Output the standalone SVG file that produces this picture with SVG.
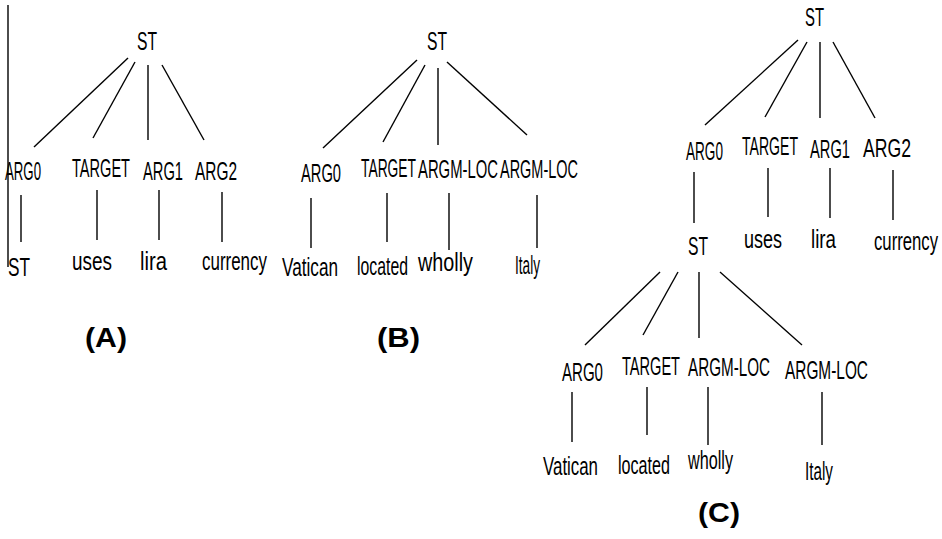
<svg xmlns="http://www.w3.org/2000/svg" width="942" height="539" viewBox="0 0 942 539">
<style>
text{font-family:"Liberation Sans",Arial,sans-serif;font-size:25px;fill:#000}
.cap{font-family:"Liberation Sans",Arial,sans-serif;font-size:27px;font-weight:bold}
line{stroke:#000;stroke-width:1.4}
</style>
<rect width="942" height="539" fill="#fff"/>
<g id="connectors">
<line x1="8" y1="5" x2="8" y2="267"/>
<!-- Tree A -->
<line x1="128" y1="58" x2="34" y2="147"/>
<line x1="135" y1="62" x2="93" y2="138"/>
<line x1="148" y1="65" x2="148" y2="140"/>
<line x1="162" y1="65" x2="204" y2="140"/>
<line x1="21" y1="195" x2="21" y2="242"/>
<line x1="97" y1="190" x2="97" y2="240"/>
<line x1="159" y1="190" x2="159" y2="240"/>
<line x1="222" y1="192" x2="222" y2="242"/>
<!-- Tree B -->
<line x1="417" y1="60" x2="323" y2="148"/>
<line x1="425" y1="65" x2="383" y2="142"/>
<line x1="438" y1="68" x2="438" y2="145"/>
<line x1="447" y1="62" x2="527" y2="135"/>
<line x1="311" y1="198" x2="311" y2="248"/>
<line x1="387" y1="193" x2="387" y2="242"/>
<line x1="449" y1="193" x2="449" y2="250"/>
<line x1="537" y1="195" x2="537" y2="248"/>
<!-- Tree C upper -->
<line x1="798" y1="40" x2="705" y2="125"/>
<line x1="807" y1="42" x2="765" y2="117"/>
<line x1="820" y1="42" x2="820" y2="118"/>
<line x1="833" y1="42" x2="875" y2="118"/>
<line x1="694" y1="172" x2="694" y2="223"/>
<line x1="768" y1="168" x2="768" y2="217"/>
<line x1="830" y1="168" x2="830" y2="218"/>
<line x1="893" y1="170" x2="893" y2="220"/>
<!-- Tree C lower -->
<line x1="660" y1="272" x2="585" y2="345"/>
<line x1="678" y1="272" x2="643" y2="335"/>
<line x1="699" y1="272" x2="699" y2="338"/>
<line x1="720" y1="272" x2="802" y2="345"/>
<line x1="572" y1="392" x2="572" y2="442"/>
<line x1="647" y1="387" x2="647" y2="435"/>
<line x1="708" y1="387" x2="708" y2="445"/>
<line x1="822" y1="392" x2="822" y2="445"/>
</g>
<!-- Tree A nodes -->
<g id="a-st"><text x="137" y="50" textLength="20" lengthAdjust="spacingAndGlyphs">ST</text></g>
<g id="a-arg0"><text x="5" y="180" textLength="36" lengthAdjust="spacingAndGlyphs">ARG0</text></g>
<g id="a-target"><text x="72" y="177" textLength="58" lengthAdjust="spacingAndGlyphs">TARGET</text></g>
<g id="a-arg1"><text x="143" y="180" textLength="40" lengthAdjust="spacingAndGlyphs">ARG1</text></g>
<g id="a-arg2"><text x="195" y="180" textLength="42" lengthAdjust="spacingAndGlyphs">ARG2</text></g>
<g id="a-st2"><text x="8" y="276" textLength="22" lengthAdjust="spacingAndGlyphs">ST</text></g>
<g id="a-uses"><text x="72" y="270" textLength="40" lengthAdjust="spacingAndGlyphs">uses</text></g>
<g id="a-lira"><text x="140" y="270" textLength="27" lengthAdjust="spacingAndGlyphs">lira</text></g>
<g id="a-currency"><text x="202" y="270" textLength="65" lengthAdjust="spacingAndGlyphs">currency</text></g>
<g id="a-label"><text class="cap" x="85" y="347" textLength="42" lengthAdjust="spacingAndGlyphs">(A)</text></g>
<!-- Tree B nodes -->
<g id="b-st"><text x="427" y="50" textLength="20" lengthAdjust="spacingAndGlyphs">ST</text></g>
<g id="b-arg0"><text x="301" y="182" textLength="40" lengthAdjust="spacingAndGlyphs">ARG0</text></g>
<g id="b-target"><text x="361" y="177" textLength="55" lengthAdjust="spacingAndGlyphs">TARGET</text></g>
<g id="b-argmloc1"><text x="418" y="178" textLength="80" lengthAdjust="spacingAndGlyphs">ARGM-LOC</text></g>
<g id="b-argmloc2"><text x="500" y="178" textLength="78" lengthAdjust="spacingAndGlyphs">ARGM-LOC</text></g>
<g id="b-vatican"><text x="282" y="276" textLength="56" lengthAdjust="spacingAndGlyphs">Vatican</text></g>
<g id="b-located"><text x="357" y="275" textLength="51" lengthAdjust="spacingAndGlyphs">located</text></g>
<g id="b-wholly"><text x="418" y="271" textLength="55" lengthAdjust="spacingAndGlyphs">wholly</text></g>
<g id="b-italy"><text x="515" y="274" textLength="25" lengthAdjust="spacingAndGlyphs">Italy</text></g>
<g id="b-label"><text class="cap" x="377" y="347" textLength="43" lengthAdjust="spacingAndGlyphs">(B)</text></g>
<!-- Tree C nodes -->
<g id="c-st"><text x="805" y="26" textLength="19" lengthAdjust="spacingAndGlyphs">ST</text></g>
<g id="c-arg0"><text x="686" y="160" textLength="37" lengthAdjust="spacingAndGlyphs">ARG0</text></g>
<g id="c-target"><text x="742" y="155" textLength="56" lengthAdjust="spacingAndGlyphs">TARGET</text></g>
<g id="c-arg1"><text x="810" y="158" textLength="40" lengthAdjust="spacingAndGlyphs">ARG1</text></g>
<g id="c-arg2"><text x="863" y="157" textLength="48" lengthAdjust="spacingAndGlyphs">ARG2</text></g>
<g id="c-st2"><text x="688" y="255" textLength="20" lengthAdjust="spacingAndGlyphs">ST</text></g>
<g id="c-uses"><text x="744" y="248" textLength="38" lengthAdjust="spacingAndGlyphs">uses</text></g>
<g id="c-lira"><text x="811" y="248" textLength="25" lengthAdjust="spacingAndGlyphs">lira</text></g>
<g id="c-currency"><text x="874" y="250" textLength="64" lengthAdjust="spacingAndGlyphs">currency</text></g>
<g id="c-arg0b"><text x="562" y="381" textLength="41" lengthAdjust="spacingAndGlyphs">ARG0</text></g>
<g id="c-targetb"><text x="622" y="375" textLength="58" lengthAdjust="spacingAndGlyphs">TARGET</text></g>
<g id="c-argmloc1"><text x="688" y="376" textLength="82" lengthAdjust="spacingAndGlyphs">ARGM-LOC</text></g>
<g id="c-argmloc2"><text x="785" y="379" textLength="83" lengthAdjust="spacingAndGlyphs">ARGM-LOC</text></g>
<g id="c-vatican"><text x="543" y="475" textLength="55" lengthAdjust="spacingAndGlyphs">Vatican</text></g>
<g id="c-located"><text x="618" y="474" textLength="52" lengthAdjust="spacingAndGlyphs">located</text></g>
<g id="c-wholly"><text x="688" y="469" textLength="45" lengthAdjust="spacingAndGlyphs">wholly</text></g>
<g id="c-italy"><text x="805" y="480" textLength="28" lengthAdjust="spacingAndGlyphs">Italy</text></g>
<g id="c-label"><text class="cap" x="698" y="522" textLength="42" lengthAdjust="spacingAndGlyphs">(C)</text></g>
</svg>
